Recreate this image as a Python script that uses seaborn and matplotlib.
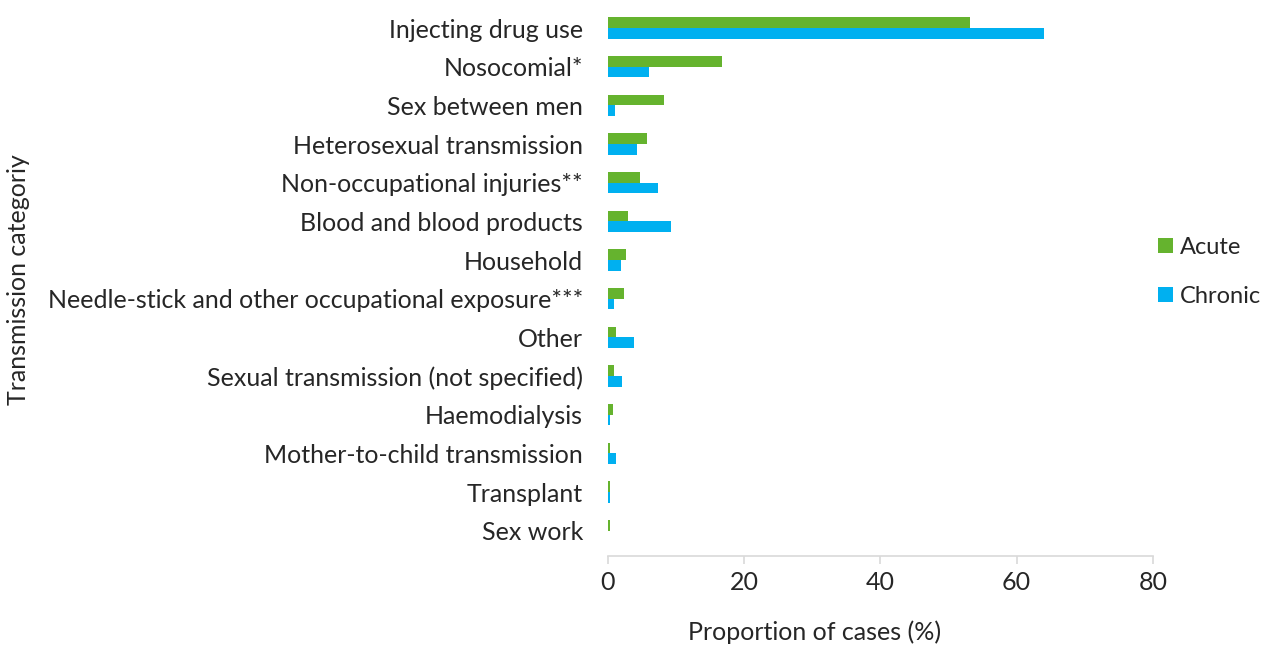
import pandas as pd
import matplotlib.pyplot as plt
import seaborn as sns

# Transmission categories (top to bottom)
categories = [
    'Injecting drug use',
    'Nosocomial*',
    'Sex between men',
    'Heterosexual transmission',
    'Non-occupational injuries**',
    'Blood and blood products',
    'Household',
    'Needle-stick and other occupational exposure***',
    'Other',
    'Sexual transmission (not specified)',
    'Haemodialysis',
    'Mother-to-child transmission',
    'Transplant',
    'Sex work',
]
acute = [53.2, 16.7, 8.3, 5.7, 4.7, 3.0, 2.7, 2.3, 1.2, 0.9, 0.7, 0.35, 0.25, 0.25]
chronic = [64.0, 6.0, 1.0, 4.2, 7.3, 9.3, 1.9, 0.9, 3.8, 2.1, 0.3, 1.2, 0.25, 0.0]

df = pd.DataFrame({
    'Category': categories * 2,
    'Value': acute + chronic,
    'Type': ['Acute'] * len(categories) + ['Chronic'] * len(categories),
})

sns.set_style('white')
plt.rcParams['font.family'] = ['Lato', 'DejaVu Sans']
FS = 18

fig = plt.figure(figsize=(12.65, 6.48), dpi=100)
ax = fig.add_axes([0.4806, 0.1512, 0.4308, 0.8354])

sns.barplot(data=df, x='Value', y='Category', hue='Type', order=categories,
            hue_order=['Acute', 'Chronic'], palette=['#65B32E', '#00B0F0'],
            orient='h', width=0.55, saturation=1, linewidth=0, ax=ax)

ax.set_xlim(0, 80)
ax.set_xticks([0, 20, 40, 60, 80])
ax.set_ylim(len(categories) - 0.5, -0.5)

for side in ['top', 'right', 'left']:
    ax.spines[side].set_visible(False)
ax.spines['bottom'].set_color('#D9D9D9')
ax.spines['bottom'].set_linewidth(1.2)
ax.spines['bottom'].set_position(('outward', 4))

ax.tick_params(axis='x', direction='out', length=6, width=1.2, color='#D9D9D9',
               labelsize=FS, pad=5, bottom=True)
ax.tick_params(axis='y', length=0, labelsize=FS, pad=18)

ax.set_xlabel('Proportion of cases (%)', fontsize=FS)
ax.xaxis.set_label_coords(0.38, -0.13)
ax.set_ylabel('Transmission categoriy', fontsize=FS)
ax.yaxis.set_label_coords(-1.06, 0.5)

ax.legend(loc='center left', bbox_to_anchor=(0.997, 0.514), frameon=False,
          fontsize=17, handlelength=0.6, handleheight=0.6, handletextpad=0.3,
          labelspacing=1.2, borderaxespad=0, borderpad=0.3, title=None)

plt.savefig('out.png', dpi=100)
